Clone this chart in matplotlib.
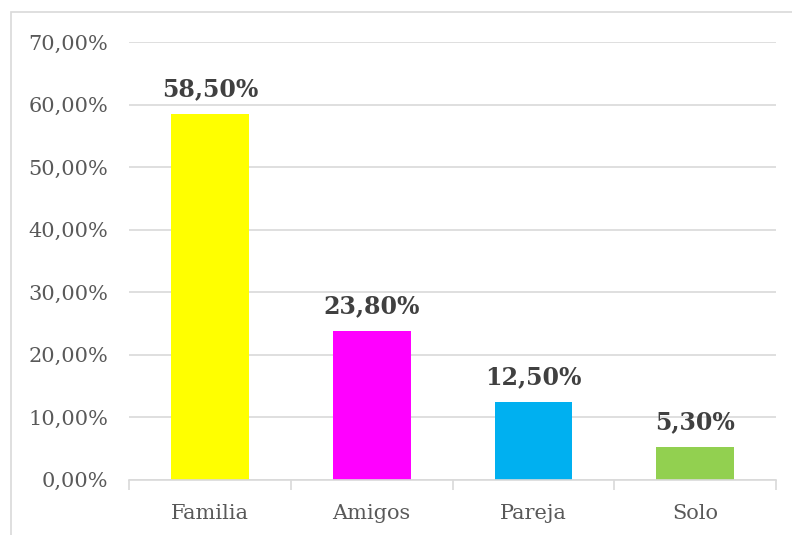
import matplotlib.pyplot as plt
from matplotlib.patches import Rectangle
from matplotlib.ticker import FuncFormatter, FixedLocator

categories = ['Familia', 'Amigos', 'Pareja', 'Solo']
values = [58.5, 23.8, 12.5, 5.3]
bar_colors = ['#FFFF00', '#FF00FF', '#00B0F0', '#92D050']

plt.rcParams['font.family'] = ['DejaVu Serif']

fig = plt.figure(figsize=(7.92, 5.35), dpi=100)
ax = fig.add_axes([0.163, 0.103, 0.817, 0.8185])

# chart frame (light gray, open to right/bottom like the crop)
fig.patches.append(Rectangle((11 / 792, -0.1), 1.2, 1 - 12 / 535 + 0.1,
                             transform=fig.transFigure, fill=False,
                             edgecolor='#d9d9d9', linewidth=1.2))

x = range(len(categories))
ax.bar(x, values, width=0.48, color=bar_colors, zorder=3)

for xi, v in zip(x, values):
    ax.annotate(f'{v:.2f}%'.replace('.', ','), (xi, v), xytext=(0, 9),
                textcoords='offset points', ha='center', va='bottom',
                fontsize=17, fontweight='bold', color='#404040')

ax.set_xlim(-0.5, len(categories) - 0.5)
ax.set_ylim(0, 70)
ax.set_yticks(range(0, 71, 10))
ax.yaxis.set_major_formatter(FuncFormatter(lambda v, p: f'{v:.2f}%'.replace('.', ',')))
ax.grid(axis='y', color='#d9d9d9', linewidth=1.2, zorder=0)

ax.set_xticks(list(x))
ax.set_xticklabels(categories)
ax.xaxis.set_minor_locator(FixedLocator([i - 0.5 for i in range(len(categories) + 1)]))
ax.tick_params(axis='x', which='major', length=0, pad=17, labelsize=15, labelcolor='#595959')
ax.tick_params(axis='x', which='minor', length=7, color='#d9d9d9', width=1.2)
ax.tick_params(axis='y', length=0, pad=15, labelsize=15, labelcolor='#595959')

for s in ['top', 'right', 'left']:
    ax.spines[s].set_visible(False)
ax.spines['bottom'].set_color('#d9d9d9')
ax.spines['bottom'].set_linewidth(1.2)
ax.spines['bottom'].set_zorder(4)

fig.savefig('out.png', dpi=100)
